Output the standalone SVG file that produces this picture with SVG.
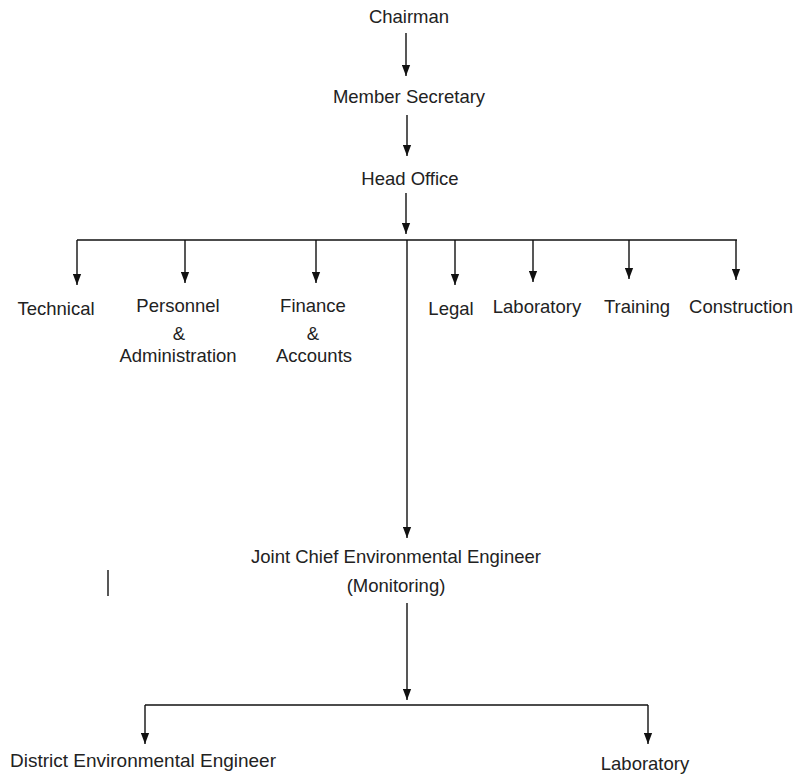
<svg xmlns="http://www.w3.org/2000/svg" width="802" height="776" viewBox="0 0 802 776">
<defs>
<marker id="ah" viewBox="0 0 12 9" refX="12" refY="4.5" markerWidth="11" markerHeight="9" markerUnits="userSpaceOnUse" orient="auto">
<path d="M0,0 L12,4.5 L0,9 z" fill="#111"/>
</marker>
<style>
text{font-family:"Liberation Sans",Arial,sans-serif;font-size:18.5px;fill:#222;text-anchor:middle}
.c line,.c path{stroke:#111;stroke-width:1.4;fill:none}
.a{marker-end:url(#ah)}
</style>
</defs>
<rect width="802" height="776" fill="#fff"/>
<g class="c" id="connectors">
<line class="a" x1="406" y1="33" x2="406" y2="76"/>
<line class="a" x1="407" y1="115" x2="407" y2="156"/>
<line class="a" x1="406" y1="193" x2="406" y2="234"/>
<line x1="77" y1="240" x2="737" y2="240"/>
<line class="a" x1="77" y1="240" x2="77" y2="285"/>
<line class="a" x1="185" y1="240" x2="185" y2="283"/>
<line class="a" x1="316" y1="240" x2="316" y2="283"/>
<line class="a" x1="455" y1="240" x2="455" y2="285"/>
<line class="a" x1="533" y1="240" x2="533" y2="282"/>
<line class="a" x1="629" y1="240" x2="629" y2="279"/>
<line class="a" x1="736" y1="240" x2="736" y2="280"/>
<line class="a" x1="407" y1="240" x2="407" y2="538"/>
<line x1="108" y1="570" x2="108" y2="596"/>
<line class="a" x1="407" y1="603" x2="407" y2="700"/>
<line x1="145" y1="705" x2="648" y2="705"/>
<line class="a" x1="145" y1="705" x2="145" y2="744"/>
<line class="a" x1="648" y1="705" x2="648" y2="744"/>
</g>
<g id="chairman"><text x="409" y="23">Chairman</text></g>
<g id="member-secretary"><text x="409" y="103">Member Secretary</text></g>
<g id="head-office"><text x="410" y="185">Head Office</text></g>
<g id="technical"><text x="56" y="315">Technical</text></g>
<g id="personnel"><text x="178" y="312">Personnel</text><text x="179" y="340">&amp;</text><text x="178" y="362">Administration</text></g>
<g id="finance"><text x="313" y="312">Finance</text><text x="313" y="340">&amp;</text><text x="314" y="362">Accounts</text></g>
<g id="legal"><text x="451" y="315">Legal</text></g>
<g id="laboratory1"><text x="537" y="313">Laboratory</text></g>
<g id="training"><text x="637" y="313">Training</text></g>
<g id="construction"><text x="741" y="313">Construction</text></g>
<g id="jcee"><text x="396" y="563">Joint Chief Environmental Engineer</text><text x="396" y="592">(Monitoring)</text></g>
<g id="district"><text x="143" y="767" textLength="266" lengthAdjust="spacingAndGlyphs">District Environmental Engineer</text></g>
<g id="laboratory2"><text x="645" y="770">Laboratory</text></g>
</svg>
